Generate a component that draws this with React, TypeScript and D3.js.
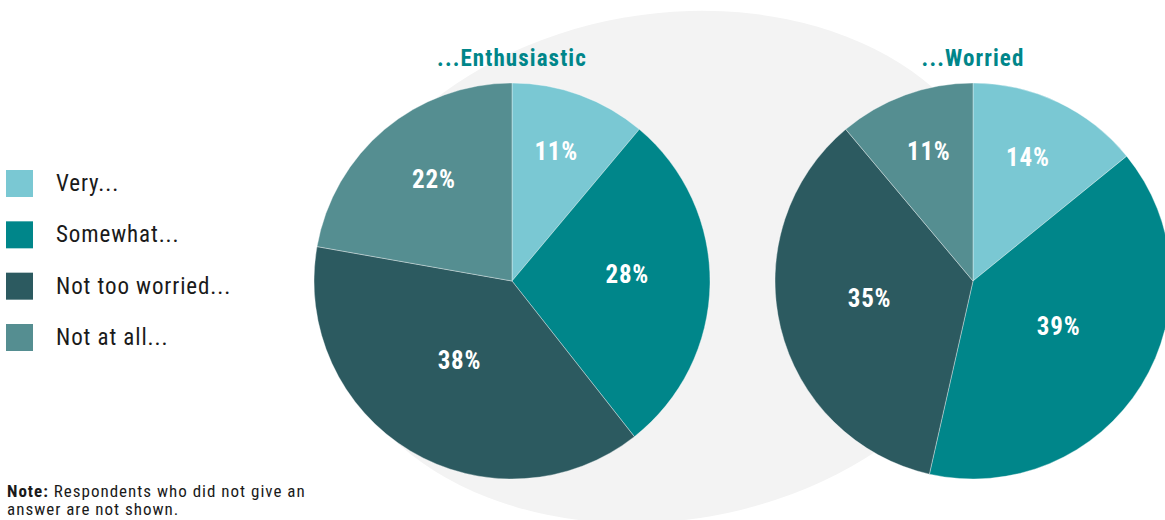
import React from "react";
import * as d3 from "d3";

const categories = ["Very...", "Somewhat...", "Not too worried...", "Not at all..."];
const colors = ["#7AC8D3", "#00868A", "#2C5A60", "#558E91"];
const enthusiasticValues = [11, 28, 38, 22];
const worriedValues = [14, 39, 35, 11];
const pieTitles = ["...Enthusiastic", "...Worried"];
const noteBold = "Note:";
const noteLines = [" Respondents who did not give an", "answer are not shown."];

const W = 1165;
const H = 520;
const FONT = "'Liberation Sans Narrow', 'Roboto Condensed', 'Arial Narrow', sans-serif";

const pieSeries = [enthusiasticValues, worriedValues];

export default function App() {
  const R = 198;
  const centerX = d3.scalePoint<number>().domain([0, 1]).range([512, 973]);
  const cy = 281;
  const pie = d3.pie<number>().sort(null).value((d) => d);
  const arc = d3.arc<d3.PieArcDatum<number>>().innerRadius(0).outerRadius(R);
  const legendY = d3.scaleLinear().domain([0, 3]).range([183.5, 337.5]);

  return (
    <svg
      width={W}
      height={H}
      style={{ position: "absolute", left: 0, top: 0, background: "#fff" }}
      fontFamily={FONT}
    >
      <ellipse
        cx={667}
        cy={267}
        rx={342}
        ry={253}
        transform="rotate(-10 667 267)"
        fill="#F3F3F3"
      />
      {pieSeries.map((vals, i) => {
        const cx = centerX(i) as number;
        const arcs = pie(vals);
        return (
          <g key={i}>
            <text
              x={cx}
              y={66}
              textAnchor="middle"
              fill="#00868A"
              fontWeight="bold"
              fontSize={23}
              letterSpacing={1.1}
            >
              {pieTitles[i]}
            </text>
            <g transform={`translate(${cx},${cy})`}>
              {arcs.map((a, j) => (
                <path key={j} d={arc(a) || ""} fill={colors[j]} stroke="#ffffff" strokeWidth={0.6} strokeOpacity={0.6} />
              ))}
              {arcs.map((a, j) => {
                const alpha = a.endAngle - a.startAngle;
                const mid = (a.startAngle + a.endAngle) / 2;
                const rc = (4 * R * Math.sin(alpha / 2)) / (3 * alpha);
                return (
                  <text
                    key={j}
                    x={rc * Math.sin(mid)}
                    y={-rc * Math.cos(mid) - 8}
                    textAnchor="middle"
                    dominantBaseline="central"
                    fill="#ffffff"
                    fontWeight="bold"
                    fontSize={25}
                    letterSpacing={0.8}
                  >
                    {a.data}%
                  </text>
                );
              })}
            </g>
          </g>
        );
      })}
      {categories.map((c, i) => (
        <g key={c} transform={`translate(0,${legendY(i)})`}>
          <rect x={6} y={-13.5} width={27} height={27} fill={colors[i]} />
          <text x={56} y={0} dominantBaseline="central" fontSize={23} letterSpacing={0.9} fill="#1a1a1a">
            {c}
          </text>
        </g>
      ))}
      <text x={7} y={497} fontSize={17} letterSpacing={1.0} fill="#1a1a1a">
        <tspan fontWeight="bold">{noteBold}</tspan>
        <tspan>{noteLines[0]}</tspan>
      </text>
      <text x={7} y={515} fontSize={17} letterSpacing={1.0} fill="#1a1a1a">
        {noteLines[1]}
      </text>
    </svg>
  );
}
